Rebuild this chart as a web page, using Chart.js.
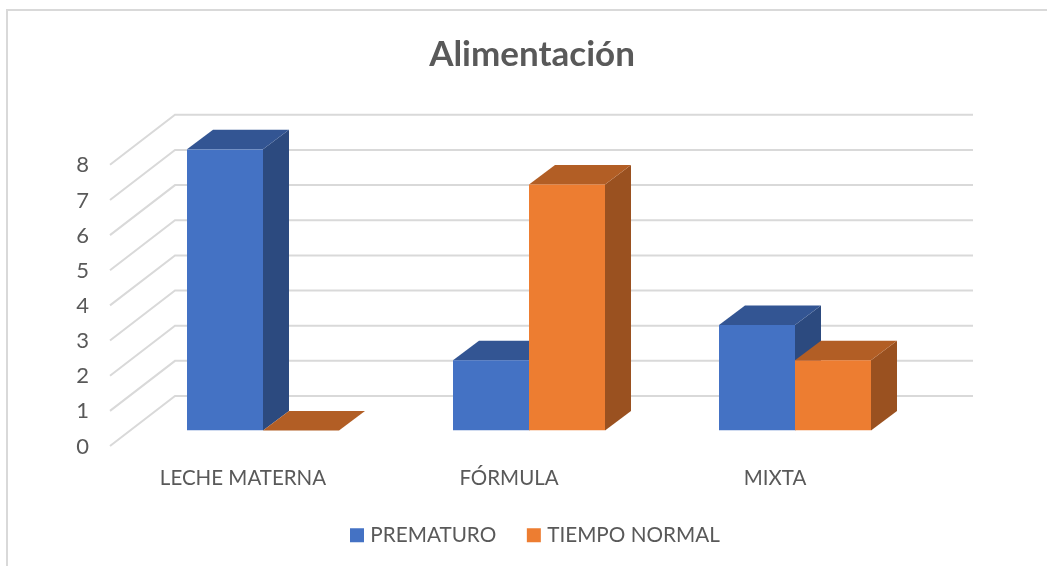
<!DOCTYPE html>
<html>
<head>
<meta charset="utf-8">
<style>html,body{margin:0;padding:0;background:#fff}canvas{display:block}</style>
<script src="https://cdn.jsdelivr.net/npm/chart.js@4/dist/chart.umd.min.js"></script>
</head>
<body>
<canvas id="c" width="1047" height="566"></canvas>
<script>
const titleText = 'Alimentación';
const categories = ['LECHE MATERNA', 'FÓRMULA', 'MIXTA'];
const prematuro = [8, 2, 3];
const tiempoNormal = [0, 7, 2];
const seriesNames = ['PREMATURO', 'TIEMPO NORMAL'];

const FONT = 'Lato';
const TEXT = '#595959';
const GRID = '#D9D9D9';
const FRONT = ['#4472C4', '#ED7D31'];
const TOP = ['#335593', '#B25E25'];
const SIDE = ['#2C4A7F', '#9A5120'];
const BAR_D = [26, -19.5];
const WALL_D = [45, -34.5];
const FLOOR_D = [-20, 15.5];

function poly(ctx, pts, fill) {
  ctx.beginPath();
  pts.forEach((p, i) => i ? ctx.lineTo(p[0], p[1]) : ctx.moveTo(p[0], p[1]));
  ctx.closePath();
  ctx.fillStyle = fill;
  ctx.fill();
}

const scene = {
  id: 'scene',
  afterLayout(chart) {
    const l = chart.legend;
    const pad = l.options.labels.padding;
    l.left = 354 - pad;
    l.right = 1047;
    const h = l.bottom - l.top;
    l.top = 525 - pad;
    l.bottom = l.top + h;
    const t = chart.titleBlock;
    t.left = 0;
    t.right = 1064;
  },
  beforeDatasetsDraw(chart) {
    const ctx = chart.ctx;
    const { left, right } = chart.chartArea;
    const y = chart.scales.y;
    ctx.save();
    // frame
    ctx.strokeStyle = GRID;
    ctx.lineWidth = 2;
    ctx.beginPath();
    ctx.moveTo(7, 566);
    ctx.lineTo(7, 10);
    ctx.lineTo(1047, 10);
    ctx.stroke();
    // wall and floor grid
    y.ticks.forEach(t => {
      const py = y.getPixelForValue(t.value);
      ctx.beginPath();
      ctx.moveTo(left + FLOOR_D[0], py + FLOOR_D[1]);
      ctx.lineTo(left + WALL_D[0], py + WALL_D[1]);
      ctx.lineTo(right + WALL_D[0], py + WALL_D[1]);
      ctx.stroke();
    });
    // bar depth faces
    const zero = y.getPixelForValue(0);
    const [dx, dy] = BAR_D;
    categories.forEach((_, i) => {
      chart.data.datasets.forEach((ds, k) => {
        const bar = chart.getDatasetMeta(k).data[i];
        const x0 = bar.x - bar.width / 2, x1 = bar.x + bar.width / 2, t = bar.y;
        if (t < zero) {
          poly(ctx, [[x1, t], [x1 + dx, t + dy], [x1 + dx, zero + dy], [x1, zero]], SIDE[k]);
        }
        poly(ctx, [[x0, t], [x0 + dx, t + dy], [x1 + dx, t + dy], [x1, t]], TOP[k]);
      });
    });
    ctx.restore();
  }
};

new Chart(document.getElementById('c'), {
  type: 'bar',
  data: {
    labels: categories,
    datasets: [
      { label: seriesNames[0], data: prematuro, backgroundColor: FRONT[0] },
      { label: seriesNames[1], data: tiempoNormal, backgroundColor: FRONT[1] }
    ]
  },
  options: {
    responsive: false,
    animation: false,
    datasets: { bar: { barPercentage: 1, categoryPercentage: 152 / 266 } },
    layout: { padding: { left: 0, right: 119, top: 0, bottom: 0 } },
    plugins: {
      tooltip: { enabled: false },
      title: {
        display: true,
        text: titleText,
        color: TEXT,
        font: { family: FONT, size: 35, weight: 'bold' },
        padding: { top: 34, bottom: 73.3 },
        align: 'center',
        fullSize: true
      },
      legend: {
        position: 'bottom',
        align: 'start',
        labels: {
          font: { family: FONT, size: 20.7 },
          color: TEXT,
          boxWidth: 6,
          boxHeight: 6,
          padding: 34.6,
          generateLabels: chart => chart.data.datasets.map((ds, i) => ({
            text: ds.label,
            fontColor: TEXT,
            fillStyle: FRONT[i],
            strokeStyle: FRONT[i],
            lineWidth: 8,
            lineJoin: 'miter',
            datasetIndex: i
          }))
        }
      }
    },
    scales: {
      x: {
        grid: { display: false },
        border: { display: false },
        afterFit: s => { s.height = 135.5 - s.chart.legend.height; },
        ticks: {
          color: TEXT,
          font: { family: FONT, size: 20.5 },
          padding: 28,
          labelOffset: -20,
          maxRotation: 0,
          autoSkip: false
        }
      },
      y: {
        min: 0,
        max: 8,
        grid: { display: false },
        border: { display: false },
        afterFit: s => { s.width = 130; },
        ticks: {
          stepSize: 1,
          color: TEXT,
          font: { family: FONT, size: 22 },
          padding: 41,
          labelOffset: 16,
          crossAlign: 'near'
        },
        afterUpdate: s => { s.options.ticks.padding = 33; }
      }
    }
  },
  plugins: [scene]
});
</script>
</body>
</html>
